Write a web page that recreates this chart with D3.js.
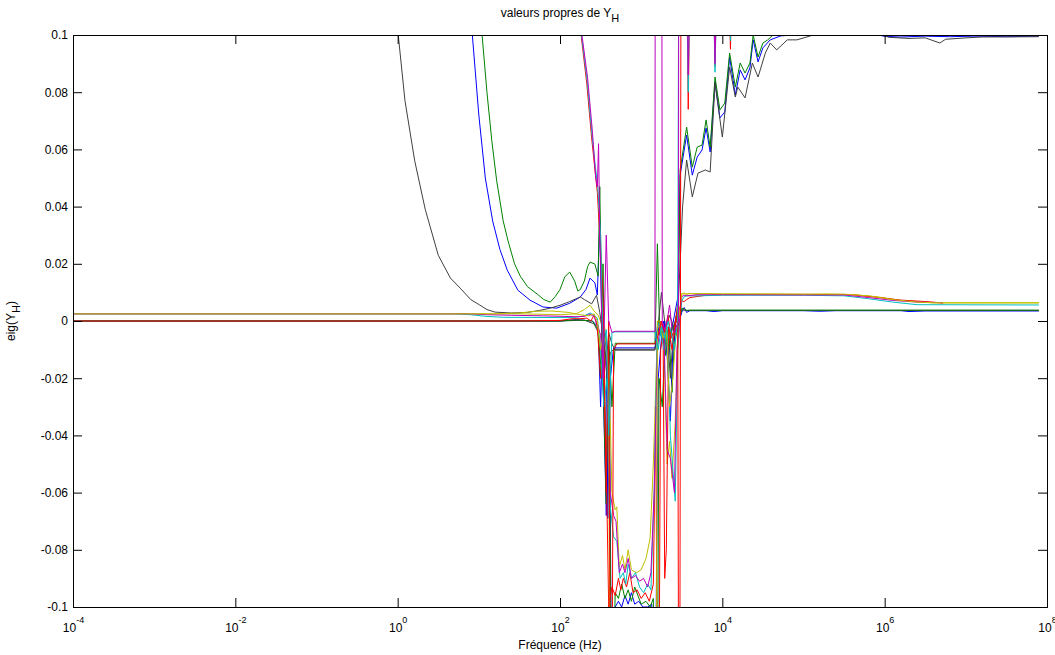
<!DOCTYPE html>
<html>
<head>
<meta charset="utf-8">
<script src="https://cdn.jsdelivr.net/npm/d3@7"></script>
<style>
  body { margin: 0; background: #fff; }
  svg { display: block; font-family: "Liberation Sans", Arial, Helvetica, sans-serif; }
  .axis path, .axis line { stroke: #000; }
  .axis text { font-size: 12px; fill: #000; }
</style>
</head>
<body>
<div id="chart"></div>
<script>
// x values are log10 of the frequency (Hz), y values are eigenvalues of Y_H
const xTickExponents = [-4, -2, 0, 2, 4, 6, 8];
const yTickValues = [-0.1, -0.08, -0.06, -0.04, -0.02, 0, 0.02, 0.04, 0.06, 0.08, 0.1];
const yTickLabels = ["-0.1", "-0.08", "-0.06", "-0.04", "-0.02", "0", "0.02", "0.04", "0.06", "0.08", "0.1"];

const blueA = [[-4,3],[-1,0.6],[0.5,0.18],[0.8,0.125],[0.92,0.1],[1.0,0.072],[1.08,0.05],[1.17,0.035],[1.26,0.025],[1.35,0.0178],[1.48,0.0108],[1.63,0.0073],[1.79,0.0049],[1.96,0.0045],[2.12,0.0062],[2.25,0.0084],[2.32,0.011],[2.37,0.015],[2.43,0.0133],[2.46,0.0091],[2.49,0.035],[2.53,-0.02],[2.57,-0.068],[2.61,-0.03],[2.64,-0.15],[2.68,-0.1],[2.72,-0.098],[2.76,-0.1],[2.8,-0.096],[2.84,-0.099],[2.88,-0.095],[2.92,-0.099],[2.97,-0.098],[3.02,-0.1],[3.08,-0.1],[3.13,-0.099],[3.17,-0.15],[3.21,-0.02],[3.25,-0.006],[3.29,0.0],[3.33,-0.015],[3.37,-0.004],[3.41,0.002],[3.45,0.008],[3.48,0.051],[3.56,0.065],[3.63,0.051],[3.69,0.0573],[3.75,0.0598],[3.8,0.0675],[3.85,0.0591],[3.91,0.0836],[3.97,0.071],[4.03,0.0731],[4.09,0.0923],[4.16,0.079],[4.22,0.0878],[4.28,0.0843],[4.34,0.0885],[4.38,0.0983],[4.44,0.0906],[4.5,0.0955],[4.59,0.0983],[4.72,0.0997],[5.0,0.1002],[5.9,0.1002],[6.0,0.0995],[6.2,0.0993],[6.5,0.0996],[6.8,0.0994],[7.1,0.0996],[7.5,0.0994],[7.9,0.0996]];
const greenA = [[-4,4],[-1,0.7],[0.6,0.2],[0.9,0.13],[1.04,0.1],[1.1,0.08],[1.16,0.063],[1.22,0.049],[1.3,0.035],[1.36,0.028],[1.44,0.02],[1.51,0.0157],[1.6,0.012],[1.72,0.0094],[1.8,0.0075],[1.88,0.0066],[1.94,0.0085],[2.0,0.011],[2.06,0.0155],[2.12,0.0171],[2.18,0.014],[2.22,0.0105],[2.25,0.011],[2.3,0.014],[2.34,0.019],[2.37,0.0206],[2.43,0.0199],[2.47,0.0157],[2.49,0.047],[2.53,-0.02],[2.57,-0.064],[2.6,-0.005],[2.64,-0.03],[2.68,-0.0078],[3.17,-0.0078],[3.2,0.027],[3.23,-0.005],[3.27,-0.003],[3.3,-0.012],[3.34,-0.002],[3.38,-0.025],[3.42,0.0],[3.46,0.006],[3.48,0.0528],[3.56,0.0678],[3.63,0.0538],[3.69,0.0608],[3.75,0.0615],[3.8,0.0703],[3.85,0.0608],[3.91,0.0853],[3.97,0.0738],[4.03,0.0762],[4.09,0.0937],[4.16,0.0818],[4.22,0.0902],[4.28,0.0867],[4.34,0.0902],[4.38,0.1],[4.44,0.0923],[4.5,0.0972],[4.56,0.0983],[4.65,0.1007],[5.5,0.101],[7.9,0.101]];
const redB = [[-4,0.4],[1.0,0.3],[2.0,0.16],[2.2,0.115],[2.26,0.1],[2.33,0.083],[2.39,0.064],[2.43,0.053],[2.46,0.045],[2.49,0.03],[2.53,0.008],[2.57,-0.06],[2.6,0.0],[2.63,-0.2],[2.66,-0.01],[2.7,-0.008],[3.17,-0.008],[3.21,-0.005],[3.25,0.0],[3.29,-0.004],[3.33,0.002],[3.37,-0.006],[3.41,-0.003],[3.45,0.006],[3.47,-0.25],[3.5,0.3],[3.55,0.15],[3.58,0.074],[3.61,0.14],[3.88,0.13],[3.91,0.089],[3.94,0.13],[4.07,0.13],[4.1,0.095],[4.13,0.13],[7.9,0.13]];
const cyanB = [[-4,0.45],[1.0,0.32],[2.0,0.165],[2.2,0.117],[2.265,0.1],[2.335,0.084],[2.395,0.065],[2.435,0.054],[2.465,0.047],[2.5,0.03],[2.53,-0.01],[2.57,-0.003],[2.6,-0.04],[2.64,-0.004],[2.68,-0.0038],[3.17,-0.0038],[3.21,-0.01],[3.25,-0.002],[3.29,-0.006],[3.33,0.0],[3.37,-0.004],[3.41,-0.01],[3.45,0.0],[3.48,0.3],[3.55,0.15],[3.58,0.08],[3.61,0.14],[3.88,0.13],[3.91,0.087],[3.94,0.13],[4.07,0.13],[4.1,0.098],[4.13,0.13],[7.9,0.13]];
const magentaB = [[-4,0.5],[1.0,0.33],[2.0,0.17],[2.2,0.118],[2.27,0.1],[2.34,0.085],[2.4,0.066],[2.44,0.05],[2.46,0.047],[2.475,0.062],[2.49,0.03],[2.53,-0.02],[2.57,0.03],[2.6,0.0],[2.64,-0.004],[2.68,-0.0036],[3.17,-0.0036],[3.18,0.5],[3.24,0.5],[3.26,0.0],[3.29,-0.003],[3.32,0.0],[3.35,0.0056],[3.38,-0.003],[3.41,-0.004],[3.46,0.0],[3.47,0.5],[3.55,0.15],[3.58,0.086],[3.61,0.14],[3.88,0.13],[3.91,0.09],[3.94,0.13],[7.9,0.13]];
const yellowA = [[-4,0.0025],[1.5,0.0025],[2.0,0.0022],[2.2,0.0025],[2.3,0.004],[2.37,0.0055],[2.42,0.0035],[2.47,0.002],[2.5,0.0],[2.55,-0.005],[2.6,-0.012],[2.64,-0.06],[2.68,-0.066],[2.7,-0.065],[2.73,-0.086],[2.77,-0.082],[2.8,-0.087],[2.84,-0.08],[2.88,-0.087],[2.94,-0.088],[3.0,-0.087],[3.06,-0.083],[3.11,-0.076],[3.15,-0.05],[3.2,-0.004],[3.24,0.0],[3.28,-0.01],[3.32,-0.05],[3.35,-0.042],[3.38,-0.055],[3.42,-0.035],[3.45,-0.01],[3.48,0.0],[3.5,0.0095],[3.53,0.0098],[3.56,0.0093],[3.6,0.0096],[3.7,0.0094],[3.8,0.0096],[4.0,0.0094],[4.5,0.0094],[5.0,0.0093],[5.3,0.0094],[5.6,0.0092],[5.9,0.0085],[6.2,0.0072],[6.6,0.0063],[7.9,0.0063]];
const grayA = [[-4,3],[-2,1],[-1,0.4],[-0.3,0.16],[0.0,0.102],[0.09,0.077],[0.21,0.056],[0.34,0.039],[0.5,0.023],[0.65,0.015],[0.77,0.0115],[0.9,0.0075],[1.01,0.0056],[1.1,0.004],[1.2,0.0031],[1.4,0.0028],[1.6,0.003],[1.75,0.0037],[1.88,0.0045],[2.0,0.0055],[2.12,0.0068],[2.25,0.0084],[2.3,0.0075],[2.39,0.006],[2.45,0.009],[2.49,0.003],[2.53,-0.005],[2.57,-0.015],[2.6,-0.004],[2.64,-0.008],[2.68,-0.0102],[3.17,-0.0102],[3.2,-0.004],[3.25,0.01],[3.3,-0.003],[3.35,0.002],[3.4,-0.002],[3.45,0.003],[3.48,0.02],[3.51,0.0399],[3.56,0.0563],[3.63,0.0434],[3.7,0.0517],[3.79,0.0528],[3.85,0.0521],[3.91,0.0832],[4.0,0.0643],[4.09,0.0888],[4.16,0.0783],[4.19,0.0818],[4.28,0.078],[4.37,0.0902],[4.44,0.0853],[4.53,0.0937],[4.59,0.0972],[4.67,0.0948],[4.8,0.0983],[4.92,0.0983],[5.12,0.1],[5.5,0.1005],[5.95,0.1003],[6.05,0.0992],[6.3,0.0988],[6.5,0.099],[6.68,0.0972],[6.75,0.0985],[7.0,0.099],[7.2,0.0993],[7.9,0.0994]];
const blueC = [[-4,0],[2.0,0],[2.2,0.0005],[2.4,0.0],[2.47,-0.002],[2.5,-0.03],[2.53,0.0],[2.57,-0.01],[2.59,-0.069],[2.62,-0.02],[2.66,-0.0094],[3.17,-0.0094],[3.2,-0.002],[3.24,-0.005],[3.28,0.0],[3.32,-0.012],[3.36,-0.035],[3.39,-0.01],[3.43,-0.002],[3.47,0.0],[3.5,0.003],[3.53,0.0047],[3.56,0.003],[3.6,0.0036],[3.8,0.0036],[3.9,0.0033],[4.0,0.0036],[5.0,0.0036],[5.2,0.0034],[5.4,0.0036],[6.2,0.0036],[6.3,0.0033],[6.5,0.0035],[7.9,0.0035]];
const greenC = [[-4,0],[2.0,0],[2.2,0.0004],[2.4,0.0],[2.47,-0.003],[2.5,-0.02],[2.53,0.02],[2.57,-0.06],[2.6,-0.01],[2.64,-0.15],[2.68,-0.095],[2.72,-0.097],[2.76,-0.092],[2.8,-0.097],[2.84,-0.094],[2.88,-0.098],[2.92,-0.093],[2.96,-0.096],[3.0,-0.099],[3.06,-0.098],[3.11,-0.1],[3.15,-0.097],[3.19,-0.2],[3.22,-0.02],[3.26,-0.03],[3.3,-0.005],[3.34,-0.01],[3.38,-0.002],[3.43,-0.005],[3.47,0.0],[3.5,0.0045],[3.53,0.0042],[3.56,0.0037],[3.6,0.0038],[5.0,0.0038],[6.0,0.0038],[7.9,0.0038]];
const grayC = [[-4,0],[2.0,0],[2.3,0.0003],[2.42,-0.001],[2.47,-0.004],[2.5,-0.015],[2.54,-0.005],[2.58,-0.02],[2.62,-0.011],[2.66,-0.0099],[3.17,-0.0099],[3.2,-0.005],[3.24,-0.002],[3.28,-0.008],[3.32,-0.003],[3.36,-0.02],[3.4,-0.002],[3.44,0.0],[3.48,0.002],[3.5,0.004],[3.53,0.0037],[7.9,0.0037]];
const redC = [[-4,0],[1.5,0],[2.0,0.0002],[2.15,0.0008],[2.25,0.0008],[2.33,0.001],[2.38,0.0],[2.42,0.002],[2.46,-0.002],[2.5,-0.02],[2.53,-0.01],[2.57,-0.05],[2.6,-0.1],[2.64,-0.093],[2.68,-0.096],[2.72,-0.09],[2.75,-0.094],[2.78,-0.09],[2.82,-0.093],[2.86,-0.088],[2.9,-0.095],[2.95,-0.094],[3.0,-0.097],[3.05,-0.095],[3.1,-0.098],[3.15,-0.092],[3.18,-0.03],[3.21,-0.2],[3.24,-0.01],[3.27,-0.004],[3.29,-0.09],[3.31,-0.08],[3.34,-0.002],[3.38,-0.01],[3.43,0.0],[3.47,0.004],[3.5,0.007],[3.53,0.0068],[3.56,0.0075],[3.6,0.0082],[3.7,0.0086],[3.8,0.009],[4.0,0.0092],[4.5,0.0093],[5.0,0.0093],[5.6,0.0092],[5.9,0.0083],[6.2,0.0073],[6.5,0.0068],[6.72,0.0063]];
const cyanC = [[-4,0.0025],[0.7,0.0025],[0.9,0.0022],[1.1,0.0016],[1.3,0.0013],[2.0,0.0012],[2.2,0.0013],[2.3,0.0018],[2.37,0.0028],[2.42,0.002],[2.46,0.001],[2.5,-0.01],[2.54,-0.03],[2.58,-0.02],[2.62,-0.065],[2.66,-0.0755],[2.7,-0.077],[2.74,-0.09],[2.78,-0.088],[2.81,-0.092],[2.84,-0.085],[2.88,-0.09],[2.93,-0.088],[2.98,-0.093],[3.03,-0.095],[3.08,-0.092],[3.12,-0.094],[3.16,-0.06],[3.2,0.0],[3.24,-0.003],[3.28,-0.01],[3.32,-0.002],[3.36,-0.04],[3.42,-0.063],[3.45,-0.01],[3.48,0.002],[3.5,0.007],[3.53,0.0085],[3.56,0.0088],[3.7,0.0088],[4.0,0.009],[5.0,0.009],[5.5,0.0088],[5.8,0.0078],[6.1,0.0066],[6.4,0.0057],[7.9,0.0056]];
const magentaC = [[-4,0.0025],[0.9,0.0025],[1.1,0.0022],[1.4,0.002],[1.8,0.0018],[2.2,0.0015],[2.3,0.0016],[2.37,0.0024],[2.42,0.0015],[2.46,-0.001],[2.5,-0.005],[2.54,-0.02],[2.58,-0.01],[2.62,-0.06],[2.66,-0.068],[2.69,-0.07],[2.73,-0.088],[2.77,-0.085],[2.8,-0.088],[2.84,-0.083],[2.88,-0.09],[2.93,-0.089],[2.98,-0.091],[3.03,-0.09],[3.08,-0.093],[3.12,-0.088],[3.16,-0.06],[3.2,-0.01],[3.24,0.0],[3.28,-0.004],[3.32,-0.045],[3.36,-0.048],[3.41,-0.06],[3.44,-0.01],[3.48,0.003],[3.5,0.0085],[3.53,0.009],[3.56,0.0088],[3.7,0.0092],[4.0,0.0092],[5.0,0.0091],[5.5,0.0091],[5.8,0.0082],[6.1,0.0072],[6.4,0.0066],[6.72,0.0064]];
const yellowC = [[-4,0.0025],[1.2,0.0025],[1.5,0.0028],[1.7,0.0034],[1.9,0.0035],[2.1,0.003],[2.25,0.0022],[2.35,0.0018],[2.42,0.0025],[2.46,0.0],[2.5,-0.01],[2.55,-0.002],[2.6,-0.02],[2.63,-0.3],[3.17,-0.3],[3.2,0.0],[3.23,0.0],[3.27,-0.006],[3.31,-0.002],[3.35,-0.03],[3.39,-0.02],[3.43,-0.004],[3.47,0.002],[3.5,0.0097],[3.53,0.0094],[3.6,0.0096],[4.0,0.0095],[5.0,0.0094],[5.5,0.0094],[5.8,0.0088],[6.1,0.0075],[6.4,0.0066],[6.6,0.0064],[7.9,0.0064]];

// MATLAB-like colour order
const C_BLUE = "#0000ff", C_GREEN = "#008000", C_RED = "#ff0000", C_CYAN = "#00bfbf",
      C_MAGENTA = "#bf00bf", C_YELLOW = "#bfbf00", C_GRAY = "#404040";

// draw order matters: later lines cover earlier ones
const lines = [
  { data: blueA, color: C_BLUE },
  { data: greenA, color: C_GREEN },
  { data: yellowA, color: C_YELLOW },
  { data: grayA, color: C_GRAY },
  { data: blueC, color: C_BLUE },
  { data: grayC, color: C_GRAY },
  { data: greenC, color: C_GREEN },
  { data: redC, color: C_RED },
  { data: cyanC, color: C_CYAN },
  { data: magentaC, color: C_MAGENTA },
  { data: yellowC, color: C_YELLOW },
  { data: redB, color: C_RED },
  { data: cyanB, color: C_CYAN },
  { data: magentaB, color: C_MAGENTA },
];

const width = 1055, height = 655;
const margin = { top: 35, right: 8, bottom: 48, left: 73 };

const svg = d3.select("#chart").append("svg")
  .attr("width", width)
  .attr("height", height);

const x = d3.scaleLog()
  .domain([1e-4, 1e8])
  .range([margin.left, width - margin.right]);
const y = d3.scaleLinear()
  .domain([-0.1, 0.1])
  .range([height - margin.bottom, margin.top]);

svg.append("defs").append("clipPath")
  .attr("id", "plot-clip")
  .append("rect")
  .attr("x", margin.left)
  .attr("y", margin.top)
  .attr("width", width - margin.left - margin.right)
  .attr("height", height - margin.top - margin.bottom);

const line = d3.line()
  .x((d) => x(Math.pow(10, d[0])))
  .y((d) => y(d[1]));

svg.append("g")
  .attr("clip-path", "url(#plot-clip)")
  .selectAll("path")
  .data(lines)
  .enter()
  .append("path")
  .attr("fill", "none")
  .attr("stroke", (d) => d.color)
  .attr("stroke-width", 1)
  .attr("d", (d) => line(d.data));

// axes, ticks pointing inward like MATLAB's box
const tickLen = 9;
const xTickValues = xTickExponents.map((e) => Math.pow(10, e));

svg.append("g")
  .attr("class", "axis")
  .attr("transform", `translate(${margin.left},0)`)
  .call(d3.axisLeft(y).tickValues(yTickValues).tickSize(-tickLen).tickPadding(5)
    .tickFormat((d, i) => yTickLabels[i]));

svg.append("g")
  .attr("class", "axis")
  .attr("transform", `translate(${width - margin.right},0)`)
  .call(d3.axisRight(y).tickValues(yTickValues).tickSize(-tickLen).tickFormat(""));

svg.append("g")
  .attr("class", "axis")
  .attr("transform", `translate(0,${margin.top})`)
  .call(d3.axisTop(x).tickValues(xTickValues).tickSize(-tickLen).tickFormat(""));

const xAxis = svg.append("g")
  .attr("class", "axis")
  .attr("transform", `translate(0,${height - margin.bottom})`)
  .call(d3.axisBottom(x).tickValues(xTickValues).tickSize(-tickLen).tickFormat(""));

// 10^n labels with superscript
xAxis.selectAll(".tick")
  .append("text")
  .attr("y", 25)
  .attr("text-anchor", "middle")
  .each(function (d) {
    const t = d3.select(this);
    t.append("tspan").text("10");
    t.append("tspan")
      .attr("dy", -9)
      .style("font-size", "9px")
      .text(Math.round(Math.log10(d)));
  });

svg.selectAll(".axis path.domain").attr("stroke-width", 1);

// titles
const plotMidX = (margin.left + width - margin.right) / 2;

const title = svg.append("text")
  .attr("x", plotMidX)
  .attr("y", 17)
  .attr("text-anchor", "middle")
  .style("font-size", "12px");
title.append("tspan").text("valeurs propres de Y");
title.append("tspan").attr("dy", 5).style("font-size", "11px").text("H");

svg.append("text")
  .attr("x", plotMidX)
  .attr("y", 649)
  .attr("text-anchor", "middle")
  .style("font-size", "12px")
  .text("Fréquence (Hz)");

const yLabel = svg.append("text")
  .attr("transform", `translate(15,${y(0)}) rotate(-90)`)
  .attr("text-anchor", "middle")
  .style("font-size", "12px");
yLabel.append("tspan").text("eig(Y");
yLabel.append("tspan").attr("dy", 5).style("font-size", "11px").text("H");
yLabel.append("tspan").attr("dy", -5).text(")");
</script>
</body>
</html>
